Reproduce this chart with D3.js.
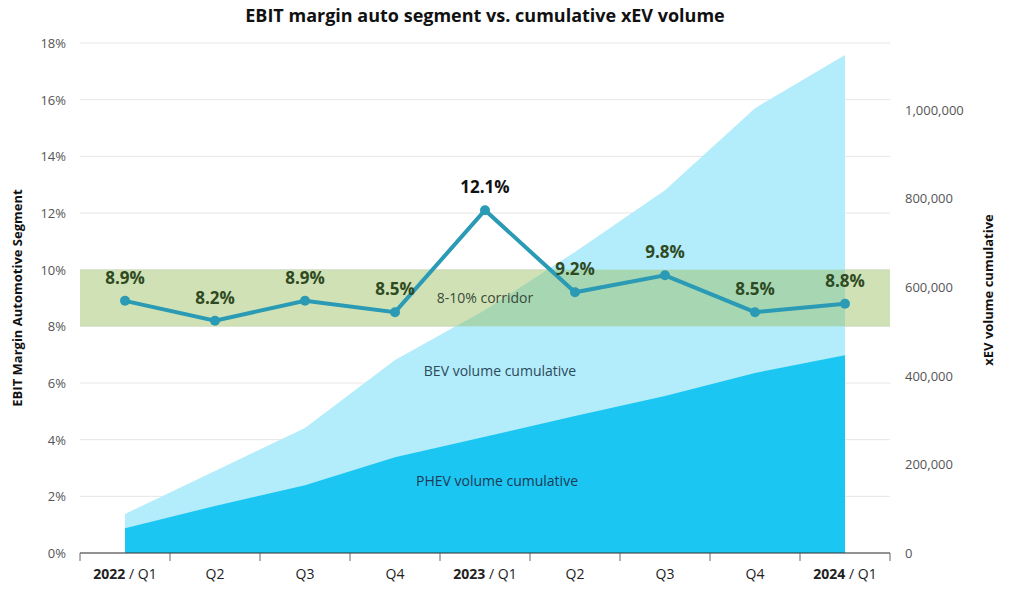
<!DOCTYPE html><html><head><meta charset="utf-8">
<script src="https://cdn.jsdelivr.net/npm/d3@7/dist/d3.min.js"></script>
<style>body{margin:0;background:#fff}text{font-family:"Open Sans",sans-serif}</style></head><body>
<svg id="c" width="1024" height="599"></svg>
<script>
const years=["2022","","","","2023","","","","2024"];
const quarters=["Q1","Q2","Q3","Q4","Q1","Q2","Q3","Q4","Q1"];
const margin=[8.9,8.2,8.9,8.5,12.1,9.2,9.8,8.5,8.8];
const bevTotal=[88000,185000,282000,435000,548000,679000,818000,1003000,1123000];
const phev=[56000,106000,153000,216000,262000,309000,354000,406000,446000];
const leftTicks=[0,2,4,6,8,10,12,14,16,18];
const rightTicks=[0,200000,400000,600000,800000,1000000];
const svg=d3.select("#c");
const L=80,R=890,T=43,B=553;
const idx=d3.range(9);
const x=d3.scaleBand().domain(idx).range([L,R]);
const cx=i=>x(i)+x.bandwidth()/2;
const yL=d3.scaleLinear().domain([0,18]).range([B,T]);
const yR=d3.scaleLinear().domain([0,1150000]).range([B,T]);
svg.append("g").selectAll("line").data(leftTicks).join("line").attr("x1",L).attr("x2",R)
 .attr("y1",d=>yL(d)).attr("y2",d=>yL(d)).attr("stroke","#e6e6e6");
svg.append("path").datum(idx).attr("fill","#b3ecfa")
 .attr("d",d3.area().x(cx).y0(yR(0)).y1(i=>yR(bevTotal[i])));
svg.append("path").datum(idx).attr("fill","#1cc6f2")
 .attr("d",d3.area().x(cx).y0(yR(0)).y1(i=>yR(phev[i])));
svg.append("rect").attr("x",L).attr("width",R-L).attr("y",yL(10)).attr("height",yL(8)-yL(10))
 .attr("fill","rgba(150,190,90,0.45)");
svg.append("text").attr("x",485).attr("y",yL(9)+5).attr("text-anchor","middle").attr("font-size",14).attr("fill","#3a4a3a").text("8-10% corridor");
svg.append("text").attr("x",500).attr("y",376).attr("text-anchor","middle").attr("font-size",14).attr("fill","#2c4a5a").text("BEV volume cumulative");
svg.append("text").attr("x",497).attr("y",486).attr("text-anchor","middle").attr("font-size",14).attr("fill","#1d3a55").text("PHEV volume cumulative");
svg.append("path").datum(idx).attr("fill","none").attr("stroke","#2a9ab5").attr("stroke-width",4)
 .attr("d",d3.line().x(cx).y(i=>yL(margin[i])));
svg.append("g").selectAll("circle").data(idx).join("circle").attr("cx",cx).attr("cy",i=>yL(margin[i])).attr("r",5).attr("fill","#2a9ab5");
svg.append("g").selectAll("text").data(idx).join("text").attr("x",cx).attr("y",i=>yL(margin[i])-17)
 .attr("text-anchor","middle").attr("font-size",17).attr("font-weight","bold")
 .attr("fill",i=>i==4?"#111":"#2f4a22").text(i=>margin[i].toFixed(1)+"%");
svg.append("line").attr("x1",L).attr("x2",R).attr("y1",B).attr("y2",B).attr("stroke","#333");
svg.append("g").selectAll("line").data(d3.range(10)).join("line").attr("x1",i=>L+i*x.bandwidth()).attr("x2",i=>L+i*x.bandwidth()).attr("y1",B).attr("y2",B+8).attr("stroke","#666");
const xl=svg.append("g").selectAll("text").data(idx).join("text").attr("x",cx).attr("y",B+26).attr("text-anchor","middle").attr("font-size",14).attr("fill","#222");
xl.each(function(i){const t=d3.select(this);if(years[i]){t.append("tspan").attr("font-weight","bold").text(years[i]);t.append("tspan").text(" / "+quarters[i]);}else t.text(quarters[i]);});
svg.append("g").selectAll("text").data(leftTicks).join("text").attr("x",L-14).attr("y",d=>yL(d)+5).attr("text-anchor","end").attr("font-size",13).attr("fill","#555").text(d=>d+"%");
svg.append("g").selectAll("text").data(rightTicks).join("text").attr("x",905).attr("y",d=>yR(d)+5).attr("font-size",13).attr("fill","#555").text(d=>d3.format(",")(d));
svg.append("text").attr("transform","translate(22,298) rotate(-90)").attr("text-anchor","middle").attr("font-size",13).attr("font-weight","bold").attr("fill","#111").text("EBIT Margin Automotive Segment");
svg.append("text").attr("transform","translate(993,290) rotate(-90)").attr("text-anchor","middle").attr("font-size",13).attr("font-weight","bold").attr("fill","#111").text("xEV volume cumulative");
svg.append("text").attr("x",485).attr("y",22).attr("text-anchor","middle").attr("font-size",18).attr("font-weight","bold").attr("fill","#111").text("EBIT margin auto segment vs. cumulative xEV volume");
</script></body></html>
